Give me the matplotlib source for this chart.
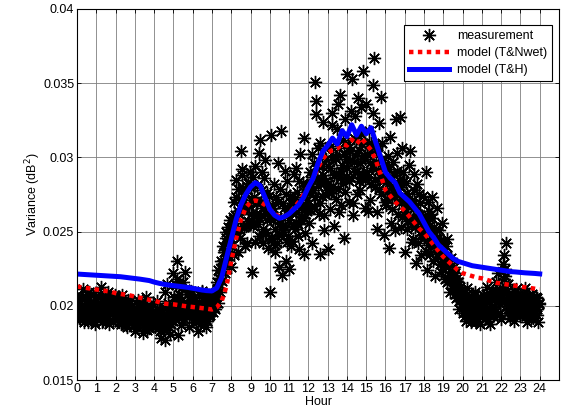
import numpy as np
import matplotlib
matplotlib.use('Agg')
import matplotlib.pyplot as plt

plt.rcParams['font.family'] = ['Liberation Sans', 'DejaVu Sans']

# measured variance, three interleaved samples per 5 minutes (units of 1e-3 dB^2)
meas_a = [
    19.5, 20.4, 19.1, 19.9, 21.1, 19.3, 20.2, 18.9, 19.7, 20.8, 19.4, 20.0,
    19.2, 20.6, 19.8, 21.3, 19.0, 20.1, 19.6, 20.9, 18.8, 19.9, 20.4, 19.3,
    19.7, 20.3, 18.9, 19.5, 20.7, 19.1, 19.9, 18.6, 20.2, 19.4, 18.9, 19.8,
    18.3, 19.6, 20.4, 18.9, 19.2, 18.2, 19.8, 20.6, 19.0, 18.5, 19.5, 20.1,
    19.3, 18.7, 20.3, 19.0, 17.8, 19.6, 18.4, 20.9, 21.5, 19.2, 18.1, 19.9,
    22.2, 20.4, 23.0, 18.0, 19.6, 21.2, 20.1, 22.3, 19.4, 20.8, 18.6, 21.0,
    19.5, 20.6, 18.9, 18.3, 20.2, 19.7, 21.0, 19.2, 20.4, 19.0, 20.7, 19.6,
    20.0, 20.8, 19.8, 21.6, 22.4, 20.9, 22.8, 24.0, 22.2, 25.0, 23.4, 25.8,
    22.6, 24.8, 27.0, 28.5, 23.6, 26.2, 30.4, 29.2, 25.3, 27.6, 24.2, 26.8,
    28.0, 22.3, 25.6, 29.4, 26.9, 24.7, 31.2, 27.8, 25.2, 29.8, 26.4, 23.9,
    20.9, 31.5, 25.8, 24.1, 27.3, 29.6, 22.6, 31.8, 25.0, 26.6, 23.0, 28.4,
    22.5, 26.3, 24.4, 28.9, 25.6, 27.7, 23.8, 30.2, 26.0, 31.3, 24.9, 27.1,
    26.5, 29.0, 24.2, 27.8, 35.1, 33.8, 30.6, 23.5, 28.4, 32.4, 26.1, 29.9,
    23.8, 27.6, 30.8, 33.0, 25.4, 28.9, 31.9, 26.3, 34.2, 29.5, 24.6, 32.6,
    35.6, 27.0, 30.4, 35.3, 26.1, 32.8, 29.1, 34.0, 27.8, 31.6, 35.8, 28.5,
    33.6, 26.4, 30.9, 28.2, 34.9, 36.7, 29.7, 25.2, 32.3, 27.5, 31.0, 24.8,
    29.4, 27.2, 23.9, 31.4, 26.5, 28.8, 25.1, 30.3, 27.9, 32.7, 26.0, 29.0,
    23.6, 28.3, 25.7, 30.4, 26.8, 24.5, 28.9, 22.9, 26.2, 27.5, 23.4, 25.9,
    24.6, 29.0, 22.4, 26.4, 23.5, 27.3, 25.0, 22.0, 26.6, 24.0, 22.8, 25.6,
    23.6, 21.8, 24.5, 22.6, 20.9, 23.2, 21.4, 22.2, 20.5, 21.6, 19.8, 21.0,
    19.5, 20.6, 19.0, 21.2, 19.8, 18.9, 20.3, 19.4, 20.9, 19.1, 20.1, 18.8,
    19.9, 20.7, 19.2, 21.3, 19.6, 18.8, 20.4, 19.3, 20.9, 21.6, 22.2, 19.5,
    19.1, 22.8, 23.4, 24.2, 21.5, 20.3, 19.6, 20.8, 19.0, 21.1, 19.7, 20.4,
    19.3, 20.6, 19.9, 21.2, 18.9, 20.1, 19.5, 20.8, 19.2, 20.3, 19.8, 18.9,
]
meas_b = [
    19.9, 19.2, 20.5, 19.6, 18.9, 20.3, 19.7, 20.9, 19.0, 19.6, 20.2, 18.8,
    20.0, 19.4, 20.8, 18.9, 19.7, 20.5, 19.1, 19.9, 20.3, 19.5, 18.9, 20.7,
    19.3, 20.6, 19.8, 18.8, 20.1, 19.6, 18.7, 20.4, 19.2, 20.0, 19.6, 18.7,
    19.6, 18.6, 19.9, 19.3, 20.3, 18.8, 19.4, 18.4, 19.7, 20.0, 18.9, 19.3,
    18.6, 19.8, 19.1, 18.3, 19.6, 18.9, 17.7, 19.3, 20.2, 18.6, 19.5, 19.0,
    19.3, 21.4, 19.9, 20.8, 18.7, 20.4, 19.1, 21.1, 20.0, 19.3, 20.6, 19.5,
    20.3, 19.1, 20.0, 19.5, 18.8, 20.9, 19.3, 20.1, 18.6, 19.8, 19.4, 20.3,
    19.6, 20.4, 20.9, 20.2, 21.5, 23.0, 21.7, 23.6, 24.6, 23.1, 24.3, 24.9,
    25.5, 23.4, 26.1, 24.9, 27.9, 25.1, 28.8, 26.5, 24.0, 28.1, 25.7, 29.0,
    26.2, 28.7, 24.3, 27.0, 25.5, 30.3, 26.1, 24.2, 28.6, 25.0, 27.6, 26.3,
    24.6, 26.8, 28.2, 23.6, 26.0, 24.8, 27.9, 22.1, 25.4, 29.1, 24.3, 26.1,
    27.4, 24.0, 26.9, 25.2, 29.3, 24.7, 27.0, 25.8, 28.3, 23.5, 26.6, 28.0,
    25.6, 28.1, 30.2, 26.7, 32.9, 28.6, 26.2, 31.0, 27.4, 25.1, 30.6, 27.8,
    29.4, 26.5, 32.2, 28.1, 30.0, 27.2, 33.6, 28.6, 26.8, 31.2, 27.7, 29.9,
    30.9, 28.4, 33.1, 26.9, 29.7, 31.2, 27.5, 30.5, 33.4, 28.9, 30.1, 26.6,
    29.0, 31.8, 27.1, 30.3, 33.0, 28.0, 26.3, 30.8, 28.7, 34.1, 29.2, 27.0,
    26.8, 30.1, 28.2, 25.6, 29.7, 27.4, 32.6, 26.2, 28.5, 25.3, 30.6, 27.1,
    27.0, 25.2, 29.5, 26.0, 24.3, 27.8, 25.5, 28.2, 24.2, 26.9, 25.1, 27.4,
    25.9, 23.7, 27.0, 24.4, 26.2, 23.0, 25.3, 24.6, 23.3, 25.1, 22.3, 24.3,
    22.9, 24.0, 21.6, 23.1, 22.0, 21.2, 22.6, 20.8, 21.9, 20.3, 21.3, 20.6,
    20.2, 19.3, 20.8, 19.6, 20.4, 19.2, 19.9, 20.7, 18.9, 20.2, 19.5, 20.5,
    19.4, 20.2, 20.8, 19.0, 20.3, 19.7, 21.0, 19.9, 20.5, 19.4, 21.1, 20.4,
    20.6, 21.8, 22.5, 21.0, 20.0, 19.2, 20.5, 19.9, 20.9, 19.4, 20.2, 19.6,
    20.4, 19.6, 20.8, 19.3, 20.1, 20.7, 19.2, 20.3, 19.7, 20.6, 19.4, 20.2,
]
meas_c = [
    19.8, 20.1, 19.4, 20.6, 19.2, 19.9, 20.4, 19.5, 20.2, 19.3, 20.7, 19.6,
    19.5, 20.2, 19.3, 20.0, 20.5, 19.4, 20.3, 19.2, 20.1, 20.6, 19.5, 19.9,
    20.0, 19.2, 20.4, 19.7, 19.0, 20.1, 19.4, 19.8, 18.9, 20.3, 19.5, 19.1,
    19.1, 19.8, 18.7, 19.5, 19.9, 19.0, 20.2, 19.1, 18.8, 19.7, 19.3, 18.9,
    19.5, 19.2, 18.8, 19.7, 19.3, 18.5, 19.9, 18.9, 19.4, 19.8, 18.8, 19.3,
    20.6, 19.9, 21.8, 19.2, 20.3, 19.7, 21.6, 19.5, 20.2, 19.8, 20.1, 19.4,
    19.9, 20.4, 19.4, 20.0, 19.6, 19.2, 20.5, 19.8, 19.5, 20.1, 19.3, 19.9,
    20.3, 19.9, 20.6, 21.1, 21.9, 22.1, 22.5, 22.9, 23.6, 24.2, 25.3, 24.1,
    24.1, 26.0, 25.6, 27.3, 26.4, 24.6, 27.2, 27.9, 26.6, 25.4, 28.3, 25.6,
    27.1, 25.4, 27.3, 26.2, 28.1, 25.9, 27.0, 29.0, 26.6, 24.9, 25.8, 27.4,
    25.9, 24.5, 26.6, 25.2, 24.2, 27.0, 25.6, 24.8, 26.9, 25.3, 27.5, 24.7,
    25.8, 26.9, 25.4, 27.2, 26.3, 25.5, 28.4, 26.6, 27.3, 25.9, 28.1, 26.4,
    27.6, 26.5, 28.7, 29.6, 27.3, 29.2, 28.1, 26.9, 29.4, 28.8, 27.5, 28.4,
    28.2, 29.3, 27.6, 30.1, 28.8, 29.9, 27.9, 30.6, 29.1, 28.3, 30.2, 28.7,
    29.3, 30.7, 28.6, 29.8, 31.3, 29.0, 30.3, 28.4, 29.6, 30.9, 28.8, 29.9,
    30.2, 28.7, 29.6, 31.0, 29.3, 28.5, 30.4, 29.1, 27.9, 29.8, 28.4, 29.5,
    28.6, 27.7, 29.2, 28.1, 27.3, 28.8, 27.6, 29.1, 26.9, 28.0, 27.2, 28.4,
    26.3, 27.6, 26.7, 25.8, 27.1, 26.5, 25.3, 26.8, 25.7, 26.1, 24.8, 25.6,
    24.8, 25.7, 24.1, 25.4, 24.7, 25.9, 24.0, 23.9, 24.5, 23.6, 24.3, 23.4,
    23.2, 22.7, 23.4, 22.1, 22.9, 21.8, 22.3, 21.5, 21.1, 21.4, 20.6, 20.4,
    19.9, 20.4, 19.7, 20.1, 19.4, 20.6, 20.0, 19.6, 20.3, 19.8, 19.3, 20.0,
    20.2, 19.5, 20.0, 19.8, 20.6, 19.3, 19.9, 20.5, 19.6, 21.0, 20.6, 20.1,
    21.2, 20.9, 22.0, 20.4, 19.8, 20.6, 20.1, 19.5, 20.4, 20.0, 19.6, 20.3,
    20.0, 20.5, 19.5, 19.9, 20.6, 19.6, 20.2, 19.4, 20.0, 19.7, 20.5, 20.1,
]

# model values every 15 minutes (units of 1e-3 dB^2)
model_nwet = [
    21.3, 21.25, 21.2, 21.15, 21.1, 21.05, 21.0, 20.95,
    20.85, 20.8, 20.75, 20.7, 20.62, 20.55, 20.48, 20.4,
    20.35, 20.25, 20.15, 20.12, 20.1, 20.05, 20.0, 19.95,
    19.92, 19.88, 19.84, 19.8, 19.75, 19.9, 20.3, 21.3,
    23.0, 24.5, 25.8, 26.6, 27.0, 27.1, 27.0, 26.8,
    26.5, 26.2, 26.0, 26.0, 26.2, 26.6, 27.0, 27.5,
    28.0, 28.6, 29.3, 29.9, 30.3, 30.5, 30.6, 30.9,
    30.8, 31.2, 30.9, 31.3, 30.9, 30.5, 29.8, 28.8,
    27.8, 27.4, 27.0, 26.7, 26.4, 26.0, 25.6, 25.2,
    24.9, 24.5, 24.1, 23.7, 23.3, 23.0, 22.7, 22.4,
    22.2, 22.1, 22.0, 21.9, 21.85, 21.75, 21.65, 21.55,
    21.5, 21.45, 21.4, 21.35, 21.3, 21.25, 21.2, 21.15,
    21.1,
]
model_th = [
    22.14, 22.12, 22.1, 22.08, 22.06, 22.04, 22.02, 22.0,
    21.98, 21.96, 21.92, 21.88, 21.84, 21.8, 21.75, 21.7,
    21.6, 21.52, 21.45, 21.4, 21.36, 21.32, 21.28, 21.24,
    21.18, 21.12, 21.06, 21.02, 21.0, 21.2, 21.9, 23.2,
    24.5, 25.8, 26.8, 27.5, 28.0, 28.3, 28.1, 27.3,
    26.5, 26.1, 25.9, 26.0, 26.2, 26.5, 26.8, 27.3,
    28.0, 28.6, 29.6, 30.4, 30.8, 31.3, 30.9, 31.8,
    31.4, 32.2, 31.5, 32.1, 31.6, 32.0, 31.0, 30.0,
    29.0, 28.6, 28.3, 27.6, 27.3, 27.0, 26.6, 26.2,
    25.6, 25.0, 24.6, 24.1, 23.8, 23.5, 23.2, 23.0,
    22.9, 22.8, 22.7, 22.65, 22.6, 22.55, 22.5, 22.45,
    22.4, 22.35, 22.3, 22.28, 22.25, 22.22, 22.2, 22.18,
    22.15,
]

hour_ticks = list(range(0, 25))
y_ticks = [0.015, 0.02, 0.025, 0.03, 0.035, 0.04]
y_ticklabels = ['0.015', '0.02', '0.025', '0.03', '0.035', '0.04']

n = len(meas_a)
t_meas = np.concatenate([np.arange(n) / 12.0,
                         (np.arange(n) + 0.5) / 12.0,
                         (np.arange(n) + 0.25) / 12.0])
meas = np.concatenate([meas_a, meas_b, meas_c]) * 1e-3
t_model = np.arange(len(model_th)) / 4.0
model_nwet = np.array(model_nwet) * 1e-3
model_th = np.array(model_th) * 1e-3

fig = plt.figure(figsize=(5.62, 4.19), dpi=100)
ax = fig.add_axes([77 / 562, 39 / 419, 482 / 562, 371 / 419])

ax.plot(t_meas, meas, linestyle='none', marker=(8, 2, 0), markersize=9.5,
        markeredgewidth=1.0, color='black', label='measurement')
ax.plot(t_model, model_nwet, color='red', linewidth=3.2, dashes=(1, 1),
        dash_capstyle='butt', label='model (T&Nwet)')
ax.plot(t_model, model_th, color='blue', linewidth=3.6, label='model (T&H)')

ax.set_xlim(0, 25)
ax.set_ylim(0.015, 0.04)
ax.set_xticks(hour_ticks)
ax.set_yticks(y_ticks)
ax.set_yticklabels(y_ticklabels)
ax.tick_params(direction='in', top=True, right=True, labelsize=9,
               length=3, width=0.6, pad=2)
ax.grid(True, color='#7f7f7f', linewidth=0.6)
ax.set_axisbelow(True)
for s in ax.spines.values():
    s.set_linewidth(0.8)

ax.set_xlabel('Hour', fontsize=9, labelpad=1)
ax.set_ylabel('Variance (dB$^2$)', fontsize=9, labelpad=0)

leg = ax.legend(loc='upper right', bbox_to_anchor=(0.9855, 0.957),
                borderaxespad=0, fancybox=False, framealpha=1,
                edgecolor='black', fontsize=9, handlelength=3.2,
                borderpad=0.4, labelspacing=0.4, handletextpad=0.6)
leg.get_frame().set_linewidth(0.8)

fig.savefig('out.png', dpi=100)
